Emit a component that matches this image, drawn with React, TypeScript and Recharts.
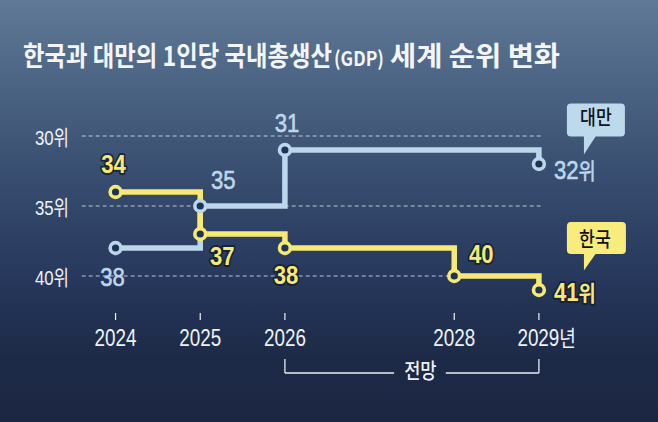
import React from 'react';
import { LineChart, Line, XAxis, YAxis, ReferenceLine, ReferenceDot } from 'recharts';

// ---------- data ----------
const years = [2024, 2025, 2026, 2028, 2029];
const koreaRank = [34, 37, 38, 40, 41];
const taiwanRank: (number | null)[] = [38, 35, 31, null, 32];
const yTicks = [30, 35, 40];
const xTicks = [2024, 2025, 2026, 2028, 2029];
const titleMain = '한국과 대만의 1인당 국내총생산';
const titleParen = '(GDP)';
const titleRest = '세계 순위 변화';
const koreaName = '한국';
const taiwanName = '대만';
const rankSuffix = '위';
const yearSuffix = '년';
const forecastLabel = '전망';
const forecastFrom = 2026;
const forecastTo = 2029;

const data = years.map((year, i) => ({ year, korea: koreaRank[i], taiwan: taiwanRank[i], taiwanDot: taiwanRank[i] }));

// ---------- styles ----------
const W = 658;
const H = 422;
const KR = '#f6ea74';
const TW = '#bcd7ec';
const DOT_FILL = '#1d3457';
const WHITE = '#eef2f7';
const NUM_FONT = '"Liberation Sans", "Noto Sans CJK KR", sans-serif';
const KO_FONT = '"Noto Sans CJK KR", sans-serif';

type Pos = { dx: number; dy: number; anchor?: 'start' | 'middle' | 'end' } | null;
const koreaLabelPos: Pos[] = [
  { dx: -2, dy: -19 },
  { dx: 22, dy: 31 },
  { dx: 1, dy: 36 },
  { dx: 27, dy: -13 },
  { dx: 15, dy: 10.5, anchor: 'start' },
];
const taiwanLabelPos: Pos[] = [
  { dx: -3, dy: 38 },
  { dx: 23, dy: -17 },
  { dx: 2, dy: -18 },
  null,
  { dx: 15, dy: 15, anchor: 'start' },
];

// title pieces: [text, x, width, fontSize, estimated natural width]
const titleParts: [string, number, number, number, number][] = [
  [titleMain, 23, 309, 27, 385],
  [titleParen, 334, 50, 20, 53],
  [titleRest, 390, 170, 27, 174],
];

function CText(props: any) {
  const { x, y, scale = 0.85, anchor = 'middle', size, fill, weight = 400, family = NUM_FONT, halo, embolden, children } = props;
  let extra: any = {};
  if (halo) extra = { stroke: halo, strokeWidth: 4, paintOrder: 'stroke', strokeLinejoin: 'round' };
  else if (embolden) extra = { stroke: fill, strokeWidth: embolden };
  return (
    <g transform={`translate(${x},${y}) scale(${scale},1)`}>
      <text x={0} y={0} textAnchor={anchor} fontSize={size} fill={fill} fontWeight={weight} fontFamily={family} {...extra}>
        {children}
      </text>
    </g>
  );
}

function Bubble(props: any) {
  const { cx, cy, x0, y0, w, h, tipDy, fill, text, textDx, textDy } = props;
  const bx = cx + x0;
  const by = cy + y0;
  return (
    <g>
      <rect x={bx} y={by} width={w} height={h} rx={4} ry={4} fill={fill} />
      <polygon points={`${cx + 45},${by + h - 0.5} ${cx + 57},${by + h - 0.5} ${cx + 45},${cy + tipDy}`} fill={fill} />
      <CText x={cx + textDx} y={cy + textDy} size={20} scale={0.86} fill="#111" weight={500} family={KO_FONT}>
        {text}
      </CText>
    </g>
  );
}

function makeDot(color: string, positions: Pos[], bold: boolean, last: number, bubble: any, name: string) {
  return (p: any) => {
    const { cx, cy, index, value } = p;
    const key = `${name}-dot-${index}`;
    if (value == null || cy == null || cx == null) return <g key={key} />;
    const pos = positions[index];
    const isLast = index === last;
    return (
      <g key={key}>
        <circle cx={cx} cy={cy} r={5.4} fill={DOT_FILL} stroke={color} strokeWidth={3.6} />
        {pos && (
          <CText
            x={cx + pos.dx}
            y={cy + pos.dy}
            anchor={pos.anchor || 'middle'}
            size={26}
            scale={0.85}
            fill={color}
            weight={bold ? 700 : 400}
            halo={bold ? 'rgba(16,26,46,0.75)' : undefined}
            embolden={bold ? undefined : 0.6}
          >
            {value}
            {isLast && <tspan fontSize={22}>{rankSuffix}</tspan>}
          </CText>
        )}
        {isLast && <Bubble cx={cx} cy={cy} {...bubble} />}
      </g>
    );
  };
}

const koreaDot = makeDot(KR, koreaLabelPos, true, 4, {
  x0: 28, y0: -68, w: 59, h: 32, tipDy: -19.5, fill: '#f7ec7c', text: koreaName, textDx: 56, textDy: -43,
}, 'kr');
const taiwanDot = makeDot(TW, taiwanLabelPos, false, 4, {
  x0: 28, y0: -60.5, w: 58, h: 33, tipDy: -9.5, fill: '#bdd9ec', text: taiwanName, textDx: 57, textDy: -38.8,
}, 'tw');

const XTick = (p: any) => {
  const { x, y, payload } = p;
  const yr = payload.value;
  const isLast = yr === xTicks[xTicks.length - 1];
  return (
    <g>
      <line x1={x} x2={x} y1={y + 9} y2={y + 16} stroke={WHITE} strokeWidth={1.2} />
      {isLast ? (
        <CText x={x - 21.5} y={y + 42} anchor="start" size={23} scale={0.82} fill={WHITE}>
          {yr}
          <tspan fontFamily={KO_FONT} fontSize={22}>{yearSuffix}</tspan>
        </CText>
      ) : (
        <CText x={x} y={y + 42} anchor="middle" size={23} scale={0.82} fill={WHITE}>
          {yr}
        </CText>
      )}
    </g>
  );
};

const YTick = (p: any) => {
  const { x, y, payload } = p;
  return (
    <CText x={x} y={y + 9.3} anchor="end" size={21} scale={0.8} fill={WHITE}>
      {payload.value}
      <tspan fontFamily={KO_FONT}>{rankSuffix}</tspan>
    </CText>
  );
};

const BRACKET = '#e8edf3';
const TITLE_FILL = '#f3f5f8';

export default function App() {
  return (
    <div
      style={{
        position: 'relative',
        width: W,
        height: H,
        overflow: 'hidden',
        background:
          'linear-gradient(to bottom, #5f7996 0%, #4a6282 22%, #354a6c 45%, #25365a 68%, #1d2a47 85%, #1b2642 100%)',
      }}
    >
      <style>{`body{margin:0;}`}</style>
      <svg width={W} height={100} style={{ position: 'absolute', left: 0, top: 0 }}>
        {titleParts.map(([txt, x, w, fs, nat]) => {
          const s = w / nat;
          return (
            <g key={txt} transform={`translate(${x},66) scale(${s},1)`}>
              <text
                x={0}
                y={0}
                fontSize={fs}
                fontWeight={700}
                fill={TITLE_FILL}
                fontFamily={KO_FONT}
                textLength={nat}
                lengthAdjust="spacingAndGlyphs"
              >
                {txt}
              </text>
            </g>
          );
        })}
      </svg>
      <div style={{ position: 'absolute', left: 0, top: 0 }}>
        <LineChart width={W} height={H} data={data} margin={{ top: 108, right: 115.7, bottom: 88, left: 0 }}>
          <XAxis
            dataKey="year"
            type="number"
            domain={[2023.6, 2029.04]}
            ticks={xTicks}
            interval={0}
            tick={XTick}
            tickLine={false}
            axisLine={false}
            tickSize={0}
            tickMargin={0}
            height={30}
          />
          <YAxis
            type="number"
            domain={[28, 42]}
            reversed
            ticks={yTicks}
            interval={0}
            tick={YTick}
            tickLine={false}
            axisLine={false}
            tickSize={0}
            tickMargin={12.7}
            width={81.7}
          />
          {yTicks.map((t) => (
            <ReferenceLine key={`grid-${t}`} y={t} stroke="rgba(225,232,242,0.8)" strokeDasharray="4 3" strokeWidth={1} />
          ))}
          <ReferenceLine segment={[{ x: forecastFrom, y: 45.93 }, { x: forecastFrom, y: 46.93 }]} stroke={BRACKET} strokeWidth={1.3} ifOverflow="visible" />
          <ReferenceLine segment={[{ x: forecastTo, y: 45.93 }, { x: forecastTo, y: 46.93 }]} stroke={BRACKET} strokeWidth={1.3} ifOverflow="visible" />
          <ReferenceLine segment={[{ x: forecastFrom, y: 46.93 }, { x: 2027.29, y: 46.93 }]} stroke={BRACKET} strokeWidth={1.3} ifOverflow="visible" />
          <ReferenceLine segment={[{ x: 2027.9, y: 46.93 }, { x: forecastTo, y: 46.93 }]} stroke={BRACKET} strokeWidth={1.3} ifOverflow="visible" />
          <ReferenceDot
            x={2027.6}
            y={47.3}
            r={0}
            ifOverflow="visible"
            shape={(p: any) => (
              <CText x={p.cx} y={p.cy} anchor="middle" size={21} scale={0.84} fill={WHITE} family={KO_FONT} weight={500}>
                {forecastLabel}
              </CText>
            )}
          />
          <Line
            dataKey="taiwan"
            type="stepAfter"
            stroke={TW}
            strokeWidth={5.5}
            dot={false}
            activeDot={false}
            connectNulls
            isAnimationActive={false}
          />
          <Line
            dataKey="korea"
            type="stepAfter"
            stroke={KR}
            strokeWidth={5.5}
            dot={koreaDot}
            activeDot={false}
            isAnimationActive={false}
          />
          <Line
            dataKey="taiwanDot"
            type="stepAfter"
            stroke="none"
            strokeWidth={0}
            dot={taiwanDot}
            activeDot={false}
            connectNulls
            isAnimationActive={false}
          />
        </LineChart>
      </div>
    </div>
  );
}
